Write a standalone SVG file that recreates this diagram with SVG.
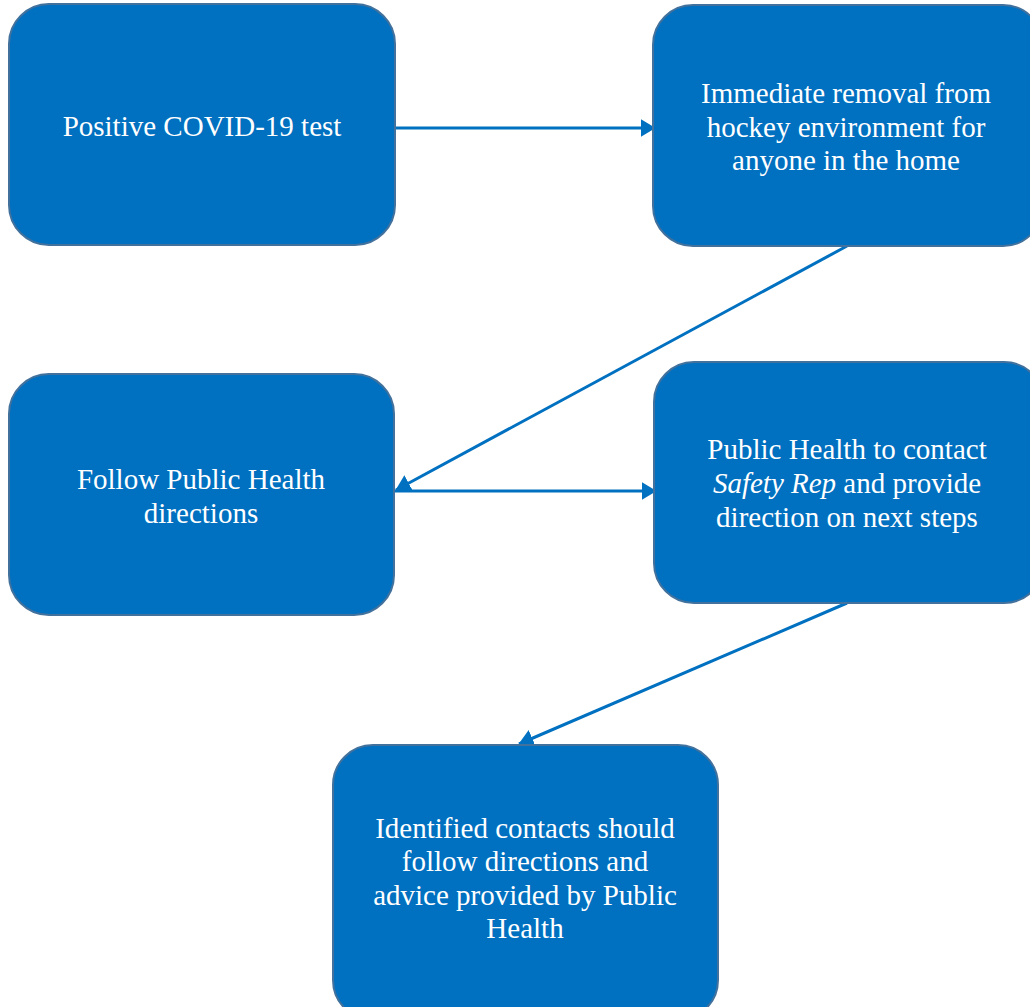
<svg xmlns="http://www.w3.org/2000/svg" width="1030" height="1007" viewBox="0 0 1030 1007">
<style>
.box{fill:#0070C0;stroke:#41719C;stroke-width:2}
.t{font-family:'Liberation Serif','Times New Roman',Times,serif;font-size:29px;fill:#fff;text-anchor:middle}
.c{stroke:#0070C0;stroke-width:3;fill:none;marker-end:url(#ah)}
</style>
<defs>
<marker id="ah" markerWidth="5" markerHeight="6" refX="4.8" refY="3" orient="auto" markerUnits="strokeWidth">
<path d="M0,0 L5,3 L0,6 Z" fill="#0070C0"/>
</marker>
</defs>
<rect width="1030" height="1007" fill="#fff"/>
<g id="connectors">
<line class="c" x1="395" y1="128" x2="655" y2="128"/>
<line class="c" x1="847" y1="246" x2="396" y2="490"/>
<line class="c" x1="395" y1="491" x2="656" y2="491"/>
<line class="c" x1="847" y1="603" x2="519" y2="744"/>
</g>
<g id="n1">
<rect class="box" x="9" y="4" width="386" height="241" rx="40"/>
<text class="t" x="202" y="136">Positive COVID-19 test</text>
</g>
<g id="n2">
<rect class="box" x="653" y="5" width="390" height="241" rx="40"/>
<text class="t" x="846" y="103">Immediate removal from</text>
<text class="t" x="846" y="137">hockey environment for</text>
<text class="t" x="846" y="170">anyone in the home</text>
</g>
<g id="n3">
<rect class="box" x="9" y="374" width="385" height="241" rx="40"/>
<text class="t" x="201" y="489">Follow Public Health</text>
<text class="t" x="201" y="523">directions</text>
</g>
<g id="n4">
<rect class="box" x="654" y="362" width="390" height="241" rx="40"/>
<text class="t" x="847" y="459">Public Health to contact</text>
<text class="t" x="847" y="493"><tspan font-style="italic">Safety Rep</tspan> and provide</text>
<text class="t" x="847" y="527">direction on next steps</text>
</g>
<g id="n5">
<rect class="box" x="333" y="745" width="385" height="275" rx="40"/>
<text class="t" x="525" y="838">Identified contacts should</text>
<text class="t" x="525" y="871">follow directions and</text>
<text class="t" x="525" y="905">advice provided by Public</text>
<text class="t" x="525" y="938">Health</text>
</g>
</svg>
